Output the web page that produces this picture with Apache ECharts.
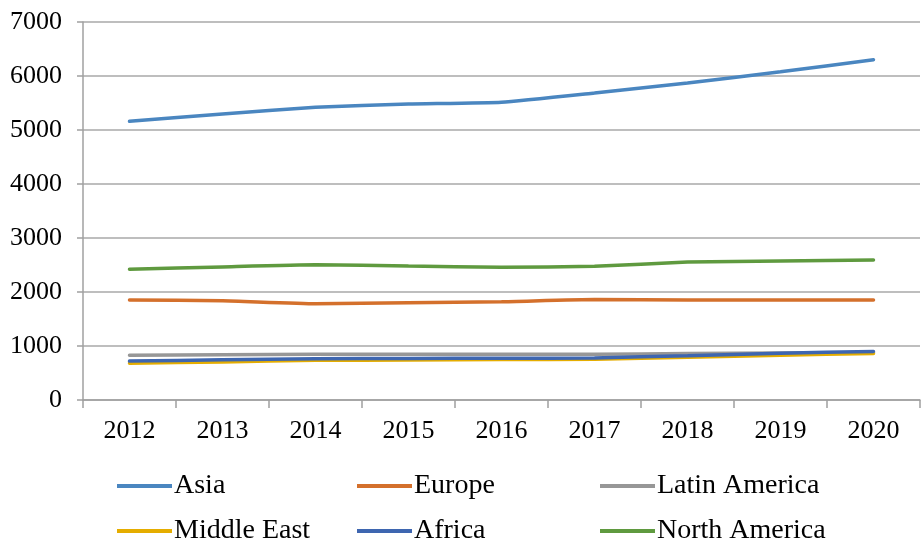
<!DOCTYPE html>
<html>
<head>
<meta charset="utf-8">
<script src="https://cdn.jsdelivr.net/npm/echarts@6/dist/echarts.min.js"></script>
<style>
html, body { margin: 0; padding: 0; background: #fff; }
#chart { width: 922px; height: 546px; }
</style>
</head>
<body>
<div id="chart"></div>
<script>
// years on the x axis
const years = ['2012', '2013', '2014', '2015', '2016', '2017', '2018', '2019', '2020']
// values per region
const asia = [5160, 5295, 5420, 5480, 5515, 5685, 5870, 6080, 6300]
const europe = [1852, 1838, 1784, 1802, 1820, 1860, 1852, 1852, 1852]
const latinAmerica = [828, 840, 845, 845, 845, 848, 860, 870, 880]
const middleEast = [682, 705, 735, 740, 748, 755, 790, 830, 860]
const africa = [720, 745, 765, 770, 772, 780, 820, 865, 900]
const northAmerica = [2420, 2465, 2505, 2480, 2458, 2475, 2555, 2575, 2592]

const names = ['Asia', 'Europe', 'Latin America', 'Middle East', 'Africa', 'North America']
const values = [asia, europe, latinAmerica, middleEast, africa, northAmerica]
const colors = ['#4a86c0', '#d4702c', '#979797', '#e5ad00', '#3e66b0', '#5f9a3f']

const font = 'Liberation Serif'
const legendPos = [
    [117, 472], [357, 472], [600, 472],
    [117, 517], [357, 517], [600, 517]
]

let dom = document.getElementById('chart')
let charts = echarts.init(dom)
let config = {
    animation: false,
    textStyle: { fontFamily: font },
    grid: { left: 83, right: 2, top: 22, bottom: 146 },
    legend: names.map((n, i) => ({
        data: [n],
        left: legendPos[i][0],
        top: legendPos[i][1],
        icon: 'rect',
        itemWidth: 55,
        itemHeight: 4,
        itemGap: 0,
        padding: 0,
        textStyle: { fontFamily: font, fontSize: 28, color: '#000', padding: [0, 0, 0, -3] }
    })),
    xAxis: {
        type: 'category',
        data: years,
        boundaryGap: true,
        axisLine: { lineStyle: { color: '#a0a0a0', width: 1.5 } },
        axisTick: { show: true, length: 8, lineStyle: { color: '#a0a0a0', width: 1.5 } },
        axisLabel: { fontFamily: font, fontSize: 26, color: '#000', margin: 18 }
    },
    yAxis: {
        type: 'value',
        min: 0,
        max: 7000,
        interval: 1000,
        axisLine: { show: true, lineStyle: { color: '#a0a0a0', width: 1.5 } },
        axisTick: { show: true, length: 6, lineStyle: { color: '#a0a0a0', width: 1.5 } },
        splitLine: { lineStyle: { color: '#a8a8a8', width: 1.5 } },
        axisLabel: { fontFamily: font, fontSize: 26, color: '#000', margin: 21, formatter: v => String(v) }
    },
    series: names.map((n, i) => ({
        name: n,
        type: 'line',
        data: values[i],
        symbol: 'none',
        smooth: 0.15,
        color: colors[i],
        lineStyle: { width: 3.5, color: colors[i], cap: 'round' }
    }))
}
config && charts.setOption(config)
</script>
</body>
</html>
